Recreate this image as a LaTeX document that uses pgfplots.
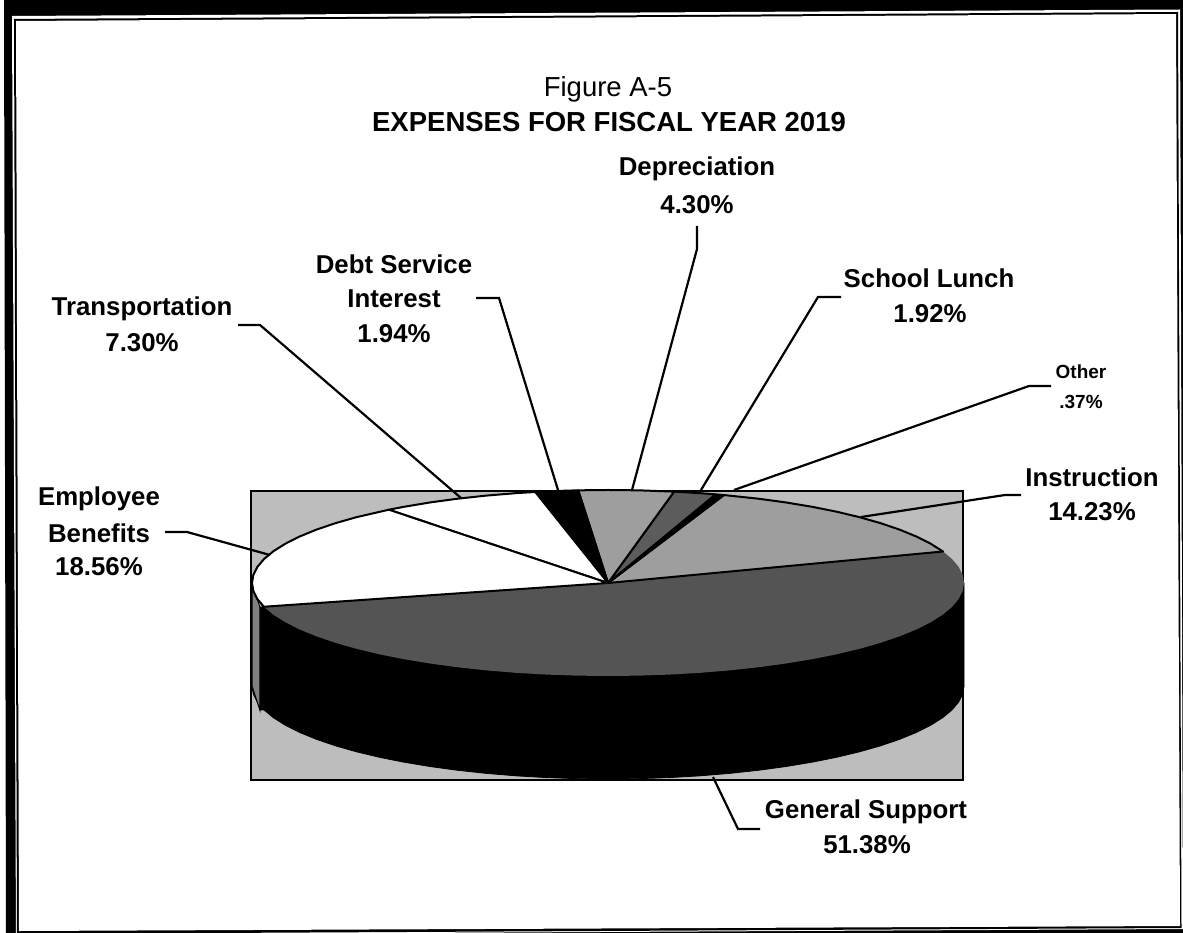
\documentclass[border=0pt]{standalone}
\usepackage{pgfplots}
\pgfplotsset{compat=1.18}
\usepackage{fontspec}
\setmainfont{Liberation Sans}
\definecolor{bgshade}{gray}{0.74}
\definecolor{instshade}{gray}{0.62}
\definecolor{deprshade}{gray}{0.62}
\definecolor{lunchshade}{gray}{0.36}
\definecolor{gensshade}{gray}{0.33}
\definecolor{sideshade}{gray}{0.5}
% Canvas in pixel units, y running downward
\pgfplotsset{
  canvas/.style={
    scale only axis, width=1183pt, height=933pt, hide axis,
    xmin=0, xmax=1183, ymin=0, ymax=933, y dir=reverse, clip=true},
  % Pie axis: one polar radius unit is the rim's semi-axis, 356 across and 93 down
  pieaxis/.style={
    scale only axis, width=1183pt, height=933pt, hide axis,
    xmin=-1.70787, xmax=1.61517, ymin=-3.76344, ymax=6.26882, clip=true},
  slice/.style={data cs=polar, draw=black, line width=2pt, line join=round},
}
\newcommand{\lbl}[4][25.8pt]{\node[font=\fontsize{#1}{#1}\selectfont\bfseries, anchor=center, inner sep=0pt] at (axis cs:#2,#3) {#4};}
\begin{document}
\begin{tikzpicture}
\begin{axis}[canvas]
  % Page edge and double rule frame, slightly out of square
  \addplot[fill=black, draw=none] coordinates {(4,0) (1183,0) (1183,933) (6,933)} -- cycle;
  \addplot[fill=white, draw=none] coordinates {(12,16) (1180,9.5) (1183,929) (16,935)} -- cycle;
  \addplot[fill=black, draw=none] coordinates {(14,19) (1178,12) (1181.5,928) (17,934)} -- cycle;
  \addplot[fill=white, draw=none] coordinates {(16,21) (1176,14) (1180,926) (19,931)} -- cycle;
  % Plot wall behind the pie
  \addplot[fill=bgshade, draw=black, line width=1.4pt] coordinates {(251,491) (963,491) (963,780) (251,780)} -- cycle;
\end{axis}
\begin{axis}[pieaxis]
  % Rim below the top face, dropped by the pie's depth
  \addplot[fill=black, draw=black, line width=0.8pt, yshift=-103pt, data cs=polar] coordinates {
    (194.8,1) (200,1) (205,1) (210,1) (215,1) (220,1) (225,1) (230,1) (235,1) (240,1) (245,1)
    (250,1) (255,1) (260,1) (265,1) (270,1) (275,1) (280,1) (285,1) (290,1) (295,1) (300,1)
    (305,1) (310,1) (315,1) (320,1) (325,1) (330,1) (335,1) (340,1) (345,1) (350,1) (355,1) (360,1)} -- cycle;
  \addplot[fill=sideshade, draw=black, line width=1pt, yshift=-103pt, data cs=polar] coordinates {
    (180,1) (185,1) (190,1) (194.8,1) (180,0.97)} -- cycle;
  \addplot[fill=black, draw=black, line width=0.8pt] coordinates {(-0.978,-0.258) (1,0) (1,-1.107) (-0.978,-1.365)} -- cycle;
  \addplot[fill=sideshade, draw=black, line width=1pt] coordinates {(-1,0) (-0.978,-0.258) (-0.978,-1.365) (-1,-1.107)} -- cycle;
  % Top face: cumulative percentages turned into degrees, starting at 19.8
  % General Support 51.38
  \addplot[data cs=polar, fill=gensshade, draw=none] coordinates {(0,0) (19.8,1) (15,1) (10,1) (5,1) (0,1) (-5,1) (-10,1) (-15,1) (-20,1) (-25,1) (-30,1) (-35,1) (-40,1) (-45,1) (-50,1) (-55,1) (-60,1) (-65,1) (-70,1) (-75,1) (-80,1) (-85,1) (-90,1) (-95,1) (-100,1) (-105,1) (-110,1) (-115,1) (-120,1) (-125,1) (-130,1) (-135,1) (-140,1) (-145,1) (-150,1) (-155,1) (-160,1) (-165.2,1)} -- cycle;
  % Instruction 14.23
  \addplot[slice, fill=instshade] coordinates {(0,0) (19.8,1) (25,1) (30,1) (35,1) (40,1) (45,1) (50,1) (55,1) (60,1) (65,1) (71,1)} -- cycle;
  % Other 0.37
  \addplot[slice, fill=black] coordinates {(0,0) (71,1) (72.4,1)} -- cycle;
  % School Lunch 1.92
  \addplot[slice, fill=lunchshade] coordinates {(0,0) (72.4,1) (75,1) (79.3,1)} -- cycle;
  % Depreciation 4.30
  \addplot[slice, fill=deprshade] coordinates {(0,0) (79.3,1) (85,1) (90,1) (94.8,1)} -- cycle;
  % Debt Service Interest 1.94
  \addplot[slice, fill=black] coordinates {(0,0) (94.8,1) (98,1) (101.8,1)} -- cycle;
  % Transportation 7.30
  \addplot[slice, fill=white] coordinates {(0,0) (101.8,1) (105,1) (110,1) (115,1) (120,1) (125,1) (128,1)} -- cycle;
  % Employee Benefits 18.56
  \addplot[slice, fill=white] coordinates {(0,0) (128,1) (135,1) (140,1) (145,1) (150,1) (155,1) (160,1) (165,1) (170,1) (175,1) (180,1) (185,1) (190,1) (194.8,1)} -- cycle;
\end{axis}
\begin{axis}[canvas]
  % Leader lines from the rim to the labels
  \addplot[black, line width=2.2pt] coordinates {(270,555) (187,532) (165,532)};
  \addplot[black, line width=2.2pt] coordinates {(461,498) (260,325) (238,325)};
  \addplot[black, line width=2.2pt] coordinates {(558,490) (499,298) (476,298)};
  \addplot[black, line width=2.2pt] coordinates {(632,490) (697,249) (697,226)};
  \addplot[black, line width=2.2pt] coordinates {(701,490) (818,297) (841,297)};
  \addplot[black, line width=2.2pt] coordinates {(734,490) (1029,386) (1051,386)};
  \addplot[black, line width=2.2pt] coordinates {(861,517) (1005,495) (1021,495)};
  \addplot[black, line width=2.2pt] coordinates {(713,777) (738,829) (760,829)};
  % Titles and labels
  \lbl[27.5pt]{608}{89}{\mdseries Figure A-5}
  \lbl[27.5pt]{609}{122}{EXPENSES FOR FISCAL YEAR 2019}
  \lbl{697}{169}{Depreciation}
  \lbl{697}{205}{4.30\%}
  \lbl{394}{264}{Debt Service}
  \lbl{394}{299}{Interest}
  \lbl{394}{334}{1.94\%}
  \lbl{142}{309}{Transportation}
  \lbl{142}{343}{7.30\%}
  \lbl{929}{278}{School Lunch}
  \lbl{930}{314}{1.92\%}
  \lbl[19pt]{1081}{372}{Other}
  \lbl[19pt]{1081}{402}{.37\%}
  \lbl{1092}{477}{Instruction}
  \lbl{1092}{512}{14.23\%}
  \lbl{99}{499}{Employee}
  \lbl{99}{533}{Benefits}
  \lbl{99}{567}{18.56\%}
  \lbl{866}{812}{General Support}
  \lbl{867}{845}{51.38\%}
\end{axis}
% The page is exactly the canvas
\pgfresetboundingbox
\path[use as bounding box] (0,0) rectangle (1183pt,933pt);
\end{tikzpicture}
\end{document}
